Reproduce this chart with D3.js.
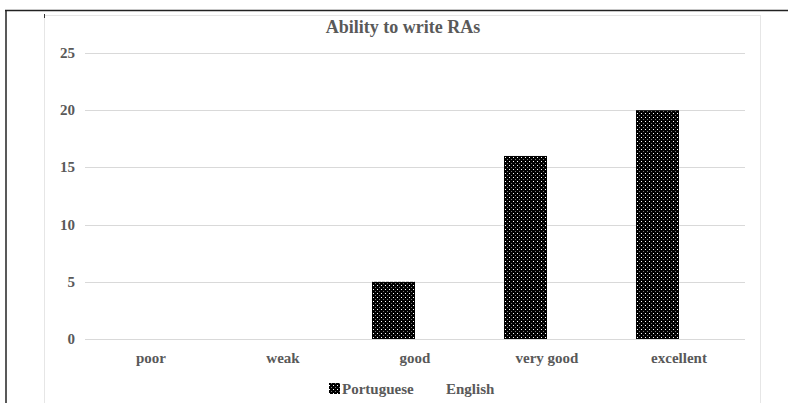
<!DOCTYPE html>
<html>
<head>
<meta charset="utf-8">
<script src="https://cdn.jsdelivr.net/npm/d3@7"></script>
<style>
  body { margin: 0; background: #fff; }
  svg { display: block; }
  svg text { font-family: "Liberation Serif", "DejaVu Serif", serif; font-weight: bold; fill: #595959; }
</style>
</head>
<body>
<div id="chart"></div>
<script>
const categories = ["poor", "weak", "good", "very good", "excellent"];
const seriesNames = ["Portuguese", "English"];
const portuguese = [0, 0, 5, 16, 20];
const english = [0, 0, 0, 0, 0];
const yTicks = [0, 5, 10, 15, 20, 25];
const chartTitle = "Ability to write RAs";

const width = 788, height = 403;
const gridColor = "#d9d9d9";

const svg = d3.select("#chart").append("svg")
    .attr("width", width).attr("height", height);

// pattern for the Portuguese bars (black with white dots)
const defs = svg.append("defs");
const pat = defs.append("pattern")
    .attr("id", "dots")
    .attr("patternUnits", "userSpaceOnUse")
    .attr("width", 4).attr("height", 4);
pat.append("rect").attr("width", 4).attr("height", 4).attr("fill", "#000");
pat.append("rect").attr("x", 1).attr("y", 1).attr("width", 1).attr("height", 1).attr("fill", "#fff");
pat.append("rect").attr("x", 3).attr("y", 3).attr("width", 1).attr("height", 1).attr("fill", "#777");

// outer frame (top + left)
svg.append("line").attr("x1", 5).attr("y1", 10.5).attr("x2", width).attr("y2", 10.5)
    .attr("stroke", "#222").attr("stroke-width", 1.5);
svg.append("line").attr("x1", 6).attr("y1", 10).attr("x2", 6).attr("y2", height)
    .attr("stroke", "#222").attr("stroke-width", 1.5);

// inner chart area border
svg.append("rect").attr("x", 44.5).attr("y", 15.5).attr("width", 716).attr("height", 400)
    .attr("fill", "none").attr("stroke", "#e6e6e6");
svg.append("line").attr("x1", 44.5).attr("y1", 14).attr("x2", 44.5).attr("y2", 18)
    .attr("stroke", "#333");

const plot = { left: 85, right: 745, top: 53, bottom: 339 };

const y = d3.scaleLinear().domain([0, 25]).range([plot.bottom, plot.top]);
const x0 = d3.scaleBand().domain(categories).range([plot.left, plot.right]).padding(0);
const x1 = d3.scaleBand().domain(seriesNames).range([0, x0.bandwidth()])
    .paddingInner(0).paddingOuter(0.535);

// gridlines
svg.append("g").selectAll("line").data(yTicks).join("line")
    .attr("x1", plot.left).attr("x2", plot.right)
    .attr("y1", d => Math.round(y(d)) + 0.5).attr("y2", d => Math.round(y(d)) + 0.5)
    .attr("stroke", gridColor).attr("stroke-width", 1);

// y axis labels
svg.append("g").selectAll("text").data(yTicks).join("text")
    .attr("x", 75).attr("y", d => y(d) + 5)
    .attr("text-anchor", "end")
    .style("font-size", "15px")
    .text(d => d);

// bars
const series = [
    { name: "Portuguese", values: portuguese, fill: "url(#dots)" },
    { name: "English", values: english, fill: "none" }
];
series.forEach(s => {
    svg.append("g").selectAll("rect").data(categories).join("rect")
        .attr("x", d => x0(d) + x1(s.name))
        .attr("y", (d, i) => y(s.values[i]))
        .attr("width", x1.bandwidth())
        .attr("height", (d, i) => y(0) - y(s.values[i]))
        .attr("fill", s.fill);
});

// category labels
svg.append("g").selectAll("text").data(categories).join("text")
    .attr("x", d => x0(d) + x0.bandwidth() / 2)
    .attr("y", 363)
    .attr("text-anchor", "middle")
    .style("font-size", "15px")
    .text(d => d);

// title
svg.append("text")
    .attr("x", 403).attr("y", 33)
    .attr("text-anchor", "middle")
    .style("font-size", "18px")
    .text(chartTitle);

// legend
const legend = svg.append("g");
legend.append("rect").attr("x", 329).attr("y", 383).attr("width", 11).attr("height", 11)
    .attr("fill", "url(#dots)");
legend.append("text").attr("x", 342).attr("y", 394)
    .style("font-size", "15px").text(seriesNames[0]);
legend.append("text").attr("x", 446).attr("y", 394)
    .style("font-size", "15px").text(seriesNames[1]);
</script>
</body>
</html>
